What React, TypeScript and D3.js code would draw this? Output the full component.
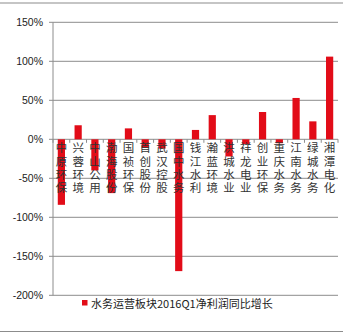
import React from "react";
import * as d3 from "d3";

const categories = [
  "中原环保", "兴蓉环境", "中山公用", "渤海股份", "国祯环保", "首创股份",
  "武汉控股", "国中水务", "钱江水利", "瀚蓝环境", "洪城水业", "祥龙电业",
  "创业环保", "重庆水务", "江南水务", "绿城水务", "湘潭电化",
];
const values = [-84, 18, -40, -69, 14, -11, -12, -169, 12, 31, -22, -6, 35, -5, 53, 23, 106];
const yTicks = [150, 100, 50, 0, -50, -100, -150, -200];
const seriesName = "水务运营板块2016Q1净利润同比增长";

const W = 354;
const H = 335;
const RED = "#E20C18";
const GRID = "#8c8c8c";

export default function App() {
  const x = d3.scaleBand<string>().domain(categories).range([53, 338]).paddingInner(0).paddingOuter(0);
  const y = d3.scaleLinear().domain([-200, 150]).range([295.3, 22.3]);
  const barW = x.bandwidth() * 0.43;
  const y0 = y(0);
  const fontLatin = "'Liberation Sans', Arial, sans-serif";
  const fontCJK = "'Noto Sans CJK SC', sans-serif";

  return (
    <svg width={W} height={H} style={{ position: "absolute", left: 0, top: 0, background: "#fff" }}>
      <line x1={0} x2={343} y1={3} y2={3} stroke={GRID} strokeWidth={1.2} />
      <line x1={0} x2={343} y1={331.5} y2={331.5} stroke={GRID} strokeWidth={1.2} />

      {yTicks.map((t) => (
        <g key={t}>
          <line x1={49} x2={338} y1={y(t)} y2={y(t)} stroke={GRID} strokeWidth={1} />
          <text x={43} y={y(t)} dy="0.35em" textAnchor="end" fontSize={10.5} fontFamily={fontLatin} fill="#222">
            {`${t}%`}
          </text>
        </g>
      ))}
      <line x1={53} x2={53} y1={y(150)} y2={y(-200)} stroke={GRID} strokeWidth={1} />

      {categories.map((c, i) => {
        const v = values[i];
        const cx = (x(c) as number) + x.bandwidth() / 2;
        const top = Math.min(y(v), y0);
        const h = Math.abs(y(v) - y0);
        return <rect key={c} x={cx - barW / 2} y={top} width={barW} height={h} fill={RED} />;
      })}

      {categories.concat([""]).map((c, i) => {
        const xx = 53 + i * x.bandwidth();
        return <line key={"t" + i} x1={xx} x2={xx} y1={y0} y2={y0 + 3.5} stroke={GRID} strokeWidth={1} />;
      })}

      {categories.map((c) => {
        const cx = (x(c) as number) + x.bandwidth() / 2;
        return (
          <text
            key={"l" + c}
            x={cx}
            y={y0 + 3}
            textAnchor="start"
            fontSize={11.5}
            fontFamily={fontCJK}
            fill="#333"
            style={{ writingMode: "vertical-rl", letterSpacing: "1.8px" }}
          >
            {c}
          </text>
        );
      })}

      <rect x={82} y={300} width={5.5} height={5.5} fill={RED} />
      <text x={91} y={303} dominantBaseline="central" fontSize={11} fontFamily={fontCJK} fill="#222">
        {seriesName}
      </text>
    </svg>
  );
}
